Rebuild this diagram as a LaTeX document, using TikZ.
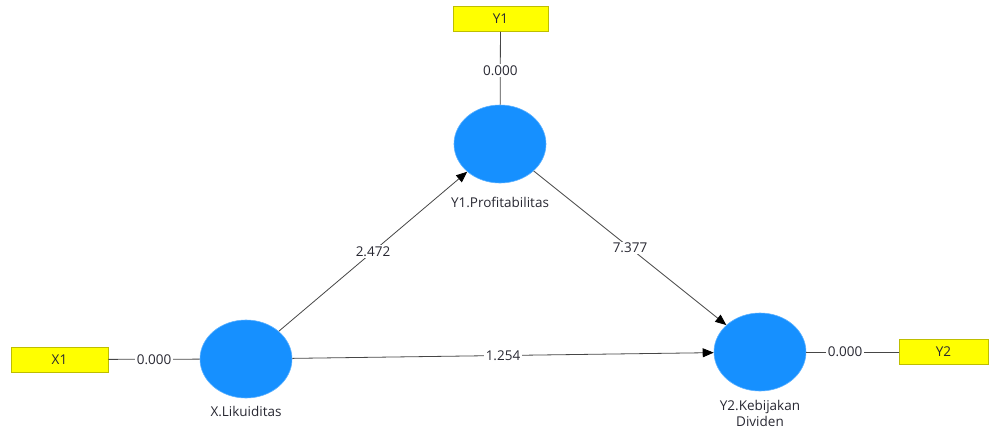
\documentclass[tikz,border=0pt]{standalone}
\usepackage{fontspec}
\setmainfont{Open Sans}
\usetikzlibrary{shapes.geometric,arrows.meta}
\definecolor{lvblue}{RGB}{22,144,255}
\definecolor{ind}{RGB}{255,255,0}
\definecolor{indborder}{RGB}{190,190,0}
\definecolor{edgegray}{RGB}{70,70,70}
\definecolor{txt}{RGB}{40,40,50}
\tikzset{
  latent/.style={ellipse, fill=lvblue, draw=lvblue!70!white, line width=0.6pt, minimum width=92pt, minimum height=78pt, inner sep=0pt},
  indbox/.style={rectangle, fill=ind, draw=indborder, line width=0.8pt, minimum height=25pt, inner sep=0pt, font=\fontsize{13.5}{16}\selectfont, text=txt},
  lvlabel/.style={font=\fontsize{13.5}{16.5}\selectfont, text=txt, align=center},
  val/.style={fill=white, inner sep=1.5pt, font=\fontsize{13.5}{16}\selectfont, text=txt},
  path/.style={draw=edgegray, line width=0.8pt, -{Triangle[length=11pt, width=9pt, color=black]}},
  meas/.style={draw=edgegray, line width=0.8pt}
}
\begin{document}
\begin{tikzpicture}[x=1pt,y=-1pt]
\useasboundingbox (0,0) rectangle (989,429);
% indicator boxes
\node[indbox, minimum width=95pt] (y1box) at (500.5,19) {Y1};
\node[indbox, minimum width=97pt] (x1box) at (59.5,359.5) {X1};
\node[indbox, minimum width=89pt] (y2box) at (943.5,352) {Y2};
% latent variables
\node[latent] (Y1) at (500,144) {};
\node[latent] (X) at (246,359) {};
\node[latent] (Y2) at (760,352) {};
% latent labels
\node[lvlabel] (Y1l) at (500,202) {Y1.Profitabilitas};
\node[lvlabel] (Xl) at (246,411) {X.Likuiditas};
\node[lvlabel] (Y2l) at (760,413.5) {Y2.Kebijakan\\Dividen};
% measurement lines
\draw[meas] (y1box) -- node[val, pos=0.53] {0.000} (Y1);
\draw[meas] (x1box) -- node[val, pos=0.5] {0.000} (X);
\draw[meas] (Y2) -- node[val, pos=0.42] {0.000} (y2box);
% structural paths
\draw[path] (X) -- node[val] {2.472} (Y1);
\draw[path] (Y1) -- node[val] {7.377} (Y2);
\draw[path] (X) -- node[val] {1.254} (Y2);
\end{tikzpicture}
\end{document}
